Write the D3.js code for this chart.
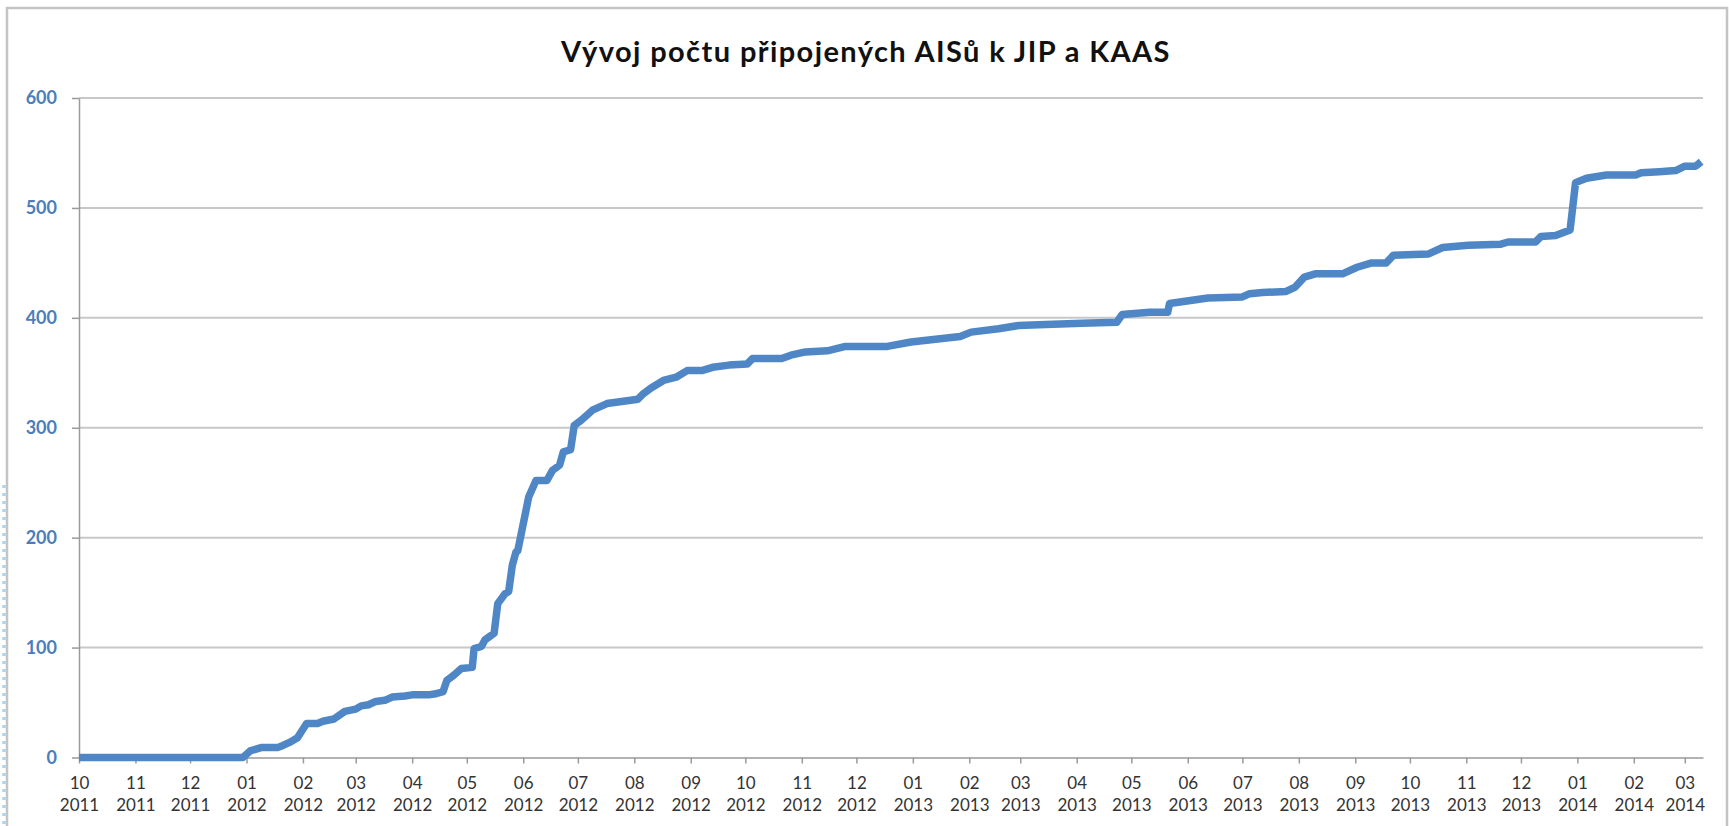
<!DOCTYPE html>
<head>
<meta charset="utf-8">
<title>Vývoj počtu připojených AISů k JIP a KAAS</title>
<style>
body {
  margin: 0;
  padding: 0;
  background: #fff;
}
.grid line {
  stroke: #c8c8c8;
  stroke-width: 2;
}
.axis path, .axis line {
  stroke: #9a9a9a;
  stroke-width: 1.5;
}
.y-axis text {
  fill: #4a7ebb;
  font-family: Lato, sans-serif;
  font-weight: bold;
  font-size: 18px;
}
.x-axis text {
  fill: #333;
  font-family: Lato, sans-serif;
  font-size: 17px;
}
.title {
  font-family: Lato, sans-serif;
  font-weight: bold;
  font-size: 29px;
  letter-spacing: 1.4px;
  fill: #111;
}
</style>
</head>
<body>
<svg id="viz" width="1729" height="826"></svg>
<script src="https://d3js.org/d3.v7.min.js"></script>
<script>

var title = 'Vývoj počtu připojených AISů k JIP a KAAS'

// cumulative count of connected systems
var dates = [
  '2011-10-01', '2011-12-30', '2012-01-03', '2012-01-09', '2012-01-18', '2012-01-21',
  '2012-01-25', '2012-01-29', '2012-02-03', '2012-02-09', '2012-02-12', '2012-02-18',
  '2012-02-24', '2012-03-01', '2012-03-04', '2012-03-08', '2012-03-12', '2012-03-17',
  '2012-03-21', '2012-03-28', '2012-04-01', '2012-04-10', '2012-04-14', '2012-04-18',
  '2012-04-20', '2012-04-24', '2012-04-28', '2012-05-04', '2012-05-05', '2012-05-09',
  '2012-05-11', '2012-05-16', '2012-05-18', '2012-05-22', '2012-05-24', '2012-05-26',
  '2012-05-28', '2012-05-29', '2012-06-04', '2012-06-08', '2012-06-14', '2012-06-17',
  '2012-06-21', '2012-06-23', '2012-06-27', '2012-06-29', '2012-07-03', '2012-07-09',
  '2012-07-13', '2012-07-17', '2012-07-30', '2012-08-03', '2012-08-06', '2012-08-10',
  '2012-08-17', '2012-08-24', '2012-08-30', '2012-09-07', '2012-09-13', '2012-09-22',
  '2012-10-02', '2012-10-05', '2012-10-21', '2012-10-26', '2012-11-03', '2012-11-15',
  '2012-11-25', '2012-12-18', '2012-12-31', '2013-01-11', '2013-01-27', '2013-02-02',
  '2013-02-17', '2013-02-28', '2013-03-15', '2013-04-04', '2013-04-23', '2013-04-26',
  '2013-05-11', '2013-05-21', '2013-05-22', '2013-06-12', '2013-07-01', '2013-07-05',
  '2013-07-12', '2013-07-25', '2013-07-30', '2013-08-04', '2013-08-10', '2013-08-25',
  '2013-09-02', '2013-09-10', '2013-09-18', '2013-09-22', '2013-10-11', '2013-10-19',
  '2013-11-02', '2013-11-20', '2013-11-24', '2013-12-09', '2013-12-12', '2013-12-20',
  '2013-12-28', '2013-12-31', '2014-01-06', '2014-01-17', '2014-02-02', '2014-02-05',
  '2014-02-15', '2014-02-24', '2014-03-01', '2014-03-07', '2014-03-10'
]
var counts = [
  0, 0, 6, 9, 9, 11,
  14, 18, 31, 31, 33, 35,
  42, 44, 47, 48, 51, 52,
  55, 56, 57, 57, 58, 60,
  70, 75, 81, 82, 99, 101,
  107, 113, 140, 149, 151, 175,
  187, 188, 237, 252, 252, 261,
  266, 278, 280, 302, 307, 316,
  319, 322, 325, 326, 331, 336,
  343, 346, 352, 352, 355, 357,
  358, 363, 363, 366, 369, 370,
  374, 374, 378, 380, 383, 387,
  390, 393, 394, 395, 396, 403,
  405, 405, 413, 418, 419, 422,
  423, 424, 428, 437, 440, 440,
  446, 450, 450, 457, 458, 464,
  466, 467, 469, 469, 474, 475,
  480, 523, 527, 530, 530, 532,
  533, 534, 538, 538, 542
]

var xTicks = [
  '2011-10', '2011-11', '2011-12', '2012-01', '2012-02', '2012-03', '2012-04', '2012-05',
  '2012-06', '2012-07', '2012-08', '2012-09', '2012-10', '2012-11', '2012-12', '2013-01',
  '2013-02', '2013-03', '2013-04', '2013-05', '2013-06', '2013-07', '2013-08', '2013-09',
  '2013-10', '2013-11', '2013-12', '2014-01', '2014-02', '2014-03'
]
var yTicks = [0, 100, 200, 300, 400, 500, 600]
var xStart = '2011-10-01'
var xEnd = '2014-03-11'

var parseDay = d3.timeParse('%Y-%m-%d')
var parseMonth = d3.timeParse('%Y-%m')

var svg = d3.select('#viz')
var plot = { left: 79, right: 1703, top: 98, bottom: 757.5 }

// outer chart frame
svg.append('rect')
  .attr('x', 7).attr('y', 8)
  .attr('width', 1720).attr('height', 840)
  .attr('fill', 'none')
  .attr('stroke', '#c4c4c4')
  .attr('stroke-width', 2.5)

// dotted selection edge on the far left
svg.append('line')
  .attr('x1', 4).attr('x2', 4)
  .attr('y1', 485).attr('y2', 826)
  .attr('stroke', '#a9d6f2')
  .attr('stroke-width', 3.5)
  .attr('stroke-dasharray', '3,5')

svg.append('text')
  .attr('class', 'title')
  .attr('x', 866).attr('y', 62)
  .attr('text-anchor', 'middle')
  .text(title)

var x = d3.scaleTime()
  .domain([parseDay(xStart), parseDay(xEnd)])
  .range([plot.left, plot.right])

var y = d3.scaleLinear()
  .domain([0, 600])
  .range([plot.bottom, plot.top])

svg.append('g')
  .attr('class', 'grid')
  .selectAll('line')
  .data(yTicks.filter(function(d) { return d > 0 }))
  .enter().append('line')
    .attr('x1', plot.left).attr('x2', plot.right)
    .attr('y1', function(d) { return y(d) })
    .attr('y2', function(d) { return y(d) })

svg.append('g')
  .attr('class', 'axis y-axis')
  .attr('transform', 'translate(' + plot.left + ',0)')
  .call(d3.axisLeft(y).tickValues(yTicks).tickSize(7).tickPadding(15).tickSizeOuter(0))

var fmtM = d3.timeFormat('%m'), fmtY = d3.timeFormat('%Y')
var xAxis = svg.append('g')
  .attr('class', 'axis x-axis')
  .attr('transform', 'translate(0,' + plot.bottom + ')')
  .call(d3.axisBottom(x).tickValues(xTicks.map(parseMonth)).tickSize(6).tickSizeOuter(0).tickFormat(''))

xAxis.selectAll('.tick text').each(function(d) {
  var t = d3.select(this).attr('y', 0).attr('dy', null)
  t.append('tspan').attr('x', 0).attr('y', 31).text(fmtM(d))
  t.append('tspan').attr('x', 0).attr('y', 53).text(fmtY(d))
})

var series = dates.map(function(d, i) { return { date: parseDay(d), value: counts[i] } })

svg.append('path')
  .datum(series)
  .attr('fill', 'none')
  .attr('stroke', '#4f86c5')
  .attr('stroke-width', 7.5)
  .attr('stroke-linejoin', 'round')
  .attr('d', d3.line()
    .x(function(d) { return x(d.date) })
    .y(function(d) { return y(d.value) }))

</script>
</body>
</html>
